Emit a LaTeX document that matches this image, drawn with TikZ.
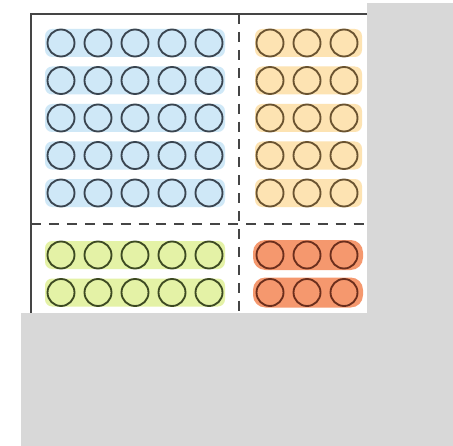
\documentclass[tikz,border=0pt]{standalone}
\usetikzlibrary{backgrounds}
\definecolor{bandblue}{HTML}{CFE8F7}
\definecolor{strokeblue}{HTML}{3A4550}
\definecolor{bandorange}{HTML}{FDE3B2}
\definecolor{strokeorange}{HTML}{6A5330}
\definecolor{bandgreen}{HTML}{E4F2A6}
\definecolor{strokegreen}{HTML}{3D4A22}
\definecolor{bandred}{HTML}{F5986E}
\definecolor{strokered}{HTML}{6B2E1C}
\definecolor{paper}{HTML}{D8D8D8}
\definecolor{frameline}{HTML}{454545}
\tikzset{
  band/.style={rounded corners=4pt, draw=none},
  ball/.style={circle, draw, line width=1.05pt, minimum size=0.54cm, inner sep=0pt},
  frameedge/.style={draw=frameline, line width=0.9pt},
  divider/.style={draw=frameline, line width=0.9pt, dash pattern=on 5.7pt off 4.5pt},
}
\begin{document}
\begin{tikzpicture}[x=0.02cm,y=-0.02cm]
\useasboundingbox (0,0) rectangle (453,446);
\fill[white] (0,0) rectangle (453,446);
% gray paper regions
\fill[paper] (367,3) rectangle (453,313);
\fill[paper] (21,313) rectangle (453,446);
% frame
\coordinate (tl) at (31,14);
\coordinate (tr) at (367,14);
\coordinate (bl) at (31,313);
\draw[frameedge] (tr) -- (tl) -- (bl);
% dividers
\coordinate (vt) at (239,14);
\coordinate (vb) at (239,313);
\coordinate (hl) at (31,224);
\coordinate (hr) at (367,224);
\draw[divider] (vt) -- (vb);
\draw[divider] (hl) -- (hr);
% blue rows
\foreach \r/\y in {1/43,2/80.5,3/118,4/155.5,5/193}{
  \fill[bandblue, band] (45,\y-14) rectangle (225,\y+14);
  \foreach \c/\x in {1/61,2/98,3/135,4/172,5/209}
    \node[ball, draw=strokeblue] (b\r\c) at (\x,\y) {};
}
% orange rows
\foreach \r/\y in {1/43,2/80.5,3/118,4/155.5,5/193}{
  \fill[bandorange, band] (255,\y-14) rectangle (362,\y+14);
  \foreach \c/\x in {1/270,2/307,3/344}
    \node[ball, draw=strokeorange] (o\r\c) at (\x,\y) {};
}
% green rows
\foreach \r/\y in {1/255,2/292.5}{
  \fill[bandgreen, band] (45,\y-14) rectangle (225,\y+14);
  \foreach \c/\x in {1/61,2/98,3/135,4/172,5/209}
    \node[ball, draw=strokegreen] (g\r\c) at (\x,\y) {};
}
% red rows
\foreach \r/\y in {1/255,2/292.5}{
  \fill[bandred, rounded corners=7pt] (253,\y-15) rectangle (363,\y+15);
  \foreach \c/\x in {1/270,2/307,3/344}
    \node[ball, draw=strokered] (d\r\c) at (\x,\y) {};
}
\end{tikzpicture}
\end{document}
